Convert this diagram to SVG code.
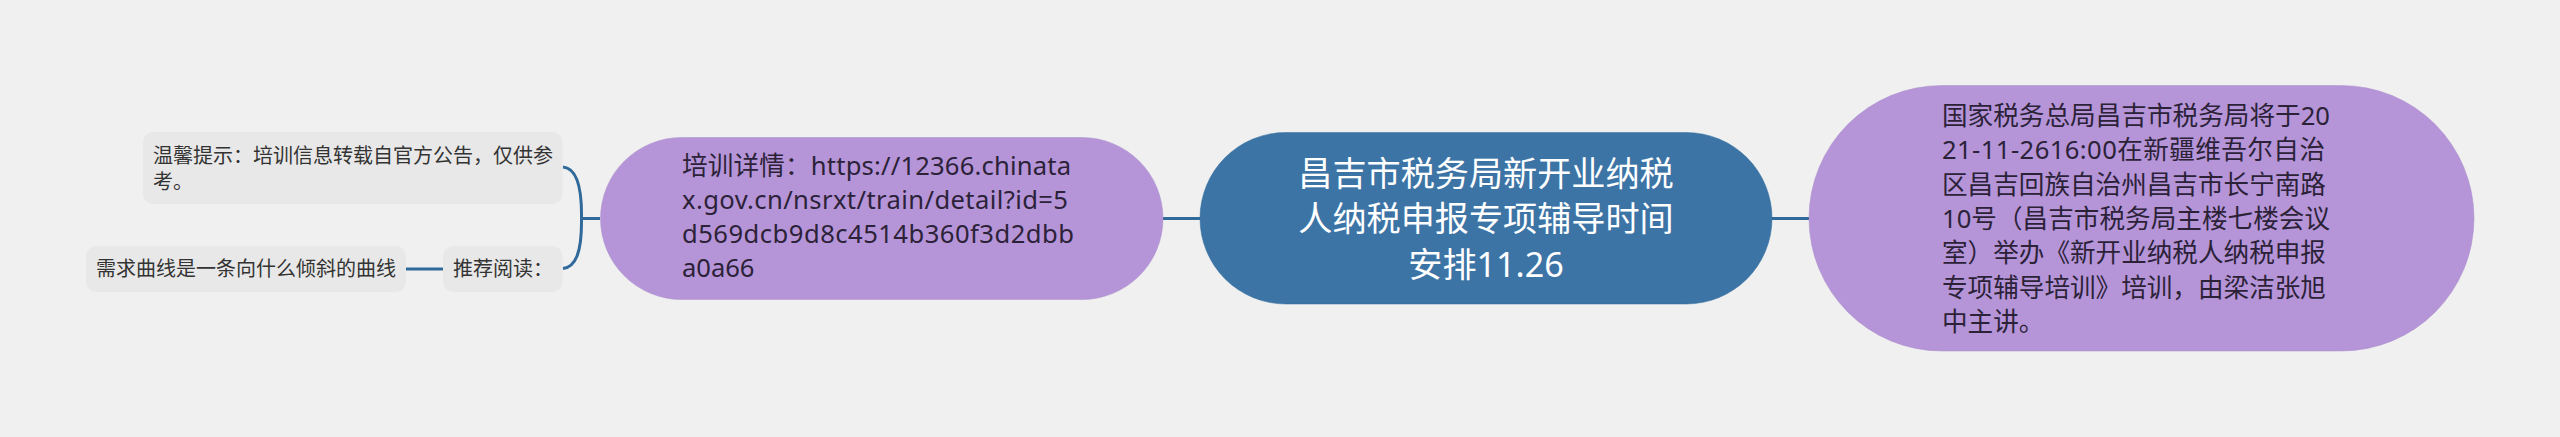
<svg xmlns="http://www.w3.org/2000/svg" width="2560" height="437" viewBox="0 0 2560 437">
<style>
text{font-family:"Noto Sans","Noto Sans CJK SC",sans-serif}
.tip{fill:#e8e8e8}
.tip-t{font-size:20px;fill:#333}
.sub{fill:#b595d8;stroke:#a98ccb;stroke-width:.5}
.sub-t{font-size:25.6px;fill:#2c2238}
.root{fill:#3d74a6;stroke:#2f6a9a;stroke-width:.5}
.root-t{font-size:34.130px;fill:#fff;text-anchor:middle}
.line{fill:none;stroke:#2f6a9a;stroke-width:3}
</style>
<rect width="2560" height="437" fill="#f0f0f0"/>
<g id="connectors">
<path class="line" d="M1163 218.500H1200"/>
<path class="line" d="M1772 218.500H1809"/>
<path class="line" d="M581 218.500H600"/>
<path class="line" d="M563 167C575 168 582 182 581.500 218C582 254 575 267 563 268.500"/>
<path class="line" d="M406 269H443"/>
</g>
<g id="root"><rect class="root" x="1200" y="132.500" width="572" height="171.500" rx="85.700"/>
<text class="root-t" x="1486" y="185.500">昌吉市税务局新开业纳税</text>
<text class="root-t" x="1486" y="231">人纳税申报专项辅导时间</text>
<text class="root-t" x="1486" y="276.500">安排11.26</text></g>
<g id="detail"><rect class="sub" x="600.500" y="137.500" width="562.500" height="162" rx="81"/>
<text class="sub-t" x="682" y="175" textLength="389">培训详情：https://12366.chinata</text>
<text class="sub-t" x="682" y="209" textLength="386">x.gov.cn/nsrxt/train/detail?id=5</text>
<text class="sub-t" x="682" y="243" textLength="392">d569dcb9d8c4514b360f3d2dbb</text>
<text class="sub-t" x="682" y="277" textLength="72.500">a0a66</text></g>
<g id="notice"><rect class="sub" x="1809" y="85.500" width="665" height="265.500" rx="132.700"/>
<text class="sub-t" x="1942" y="125" textLength="388">国家税务总局昌吉市税务局将于20</text>
<text class="sub-t" x="1942" y="159.300" textLength="383">21-11-2616:00在新疆维吾尔自治</text>
<text class="sub-t" x="1942" y="193.600">区昌吉回族自治州昌吉市长宁南路</text>
<text class="sub-t" x="1942" y="228" textLength="388">10号（昌吉市税务局主楼七楼会议</text>
<text class="sub-t" x="1942" y="262.200">室）举办《新开业纳税人纳税申报</text>
<text class="sub-t" x="1942" y="296.500">专项辅导培训》培训，由梁洁张旭</text>
<text class="sub-t" x="1942" y="330.800">中主讲。</text></g>
<g id="tip"><rect class="tip" x="143" y="132" width="419.500" height="72" rx="10"/>
<text class="tip-t" x="153" y="163">温馨提示：培训信息转载自官方公告，仅供参</text>
<text class="tip-t" x="153" y="189">考。</text></g>
<g id="recommend"><rect class="tip" x="443" y="246" width="119.500" height="46" rx="10"/>
<text class="tip-t" x="453" y="276">推荐阅读：</text></g>
<g id="answer"><rect class="tip" x="86" y="246" width="320" height="46" rx="10"/>
<text class="tip-t" x="96" y="276">需求曲线是一条向什么倾斜的曲线</text></g>
</svg>
